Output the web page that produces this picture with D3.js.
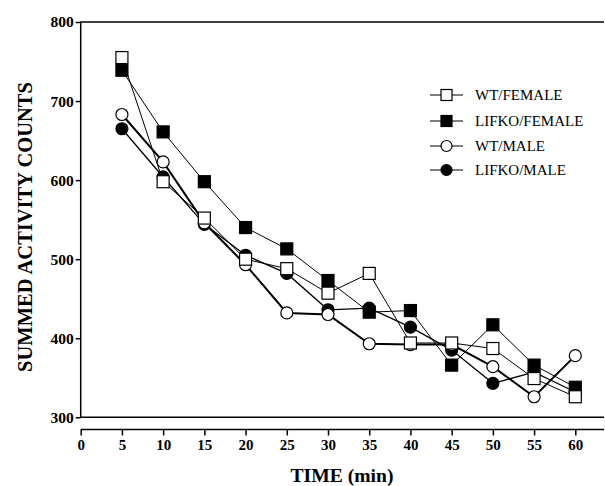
<!DOCTYPE html>
<html>
<head>
<meta charset="utf-8">
<script src="https://d3js.org/d3.v7.min.js"></script>
<style>
  body { margin: 0; background: #fff; }
  svg { display: block; }
  text { font-family: "Liberation Serif", "Times New Roman", serif; fill: #000; }
</style>
</head>
<body>
<div id="chart"></div>
<script>
// data
var times = [5, 10, 15, 20, 25, 30, 35, 40, 45, 50, 55, 60]
var wtFemale    = [755, 598, 552, 500, 488, 457, 482, 394, 394, 387, 349, 326]
var lifkoFemale = [739, 661, 598, 540, 513, 473, 433, 435, 366, 417, 366, 338]
var wtMale      = [683, 623, 546, 493, 432, 430, 393, 392, 392, 364, 326, 378]
var lifkoMale   = [665, 604, 544, 505, 482, 436, 438, 414, 385, 343, 357, 332]
var xTicks = [0, 5, 10, 15, 20, 25, 30, 35, 40, 45, 50, 55, 60]
var yTicks = [300, 400, 500, 600, 700, 800]

var series = [
  {name: "WT/FEMALE",    values: wtFemale,    shape: "square", fill: "#fff", lw: 1},
  {name: "LIFKO/FEMALE", values: lifkoFemale, shape: "square", fill: "#000", lw: 1},
  {name: "WT/MALE",      values: wtMale,      shape: "circle", fill: "#fff", lw: 2},
  {name: "LIFKO/MALE",   values: lifkoMale,   shape: "circle", fill: "#000", lw: 1.3}
]

var width = 605, height = 486
var svg = d3.select("#chart").append("svg")
    .attr("width", width).attr("height", height)

var x = d3.scaleLinear().domain([0, 60]).range([80.7, 575.3])
var y = d3.scaleLinear().domain([300, 800]).range([417.3, 22])

// scale a text's font so it spans the width seen in the figure
function fitText(sel, base, target) {
  sel.style("font-size", base + "px")
  var w = sel.node().getComputedTextLength()
  sel.style("font-size", (base * target / w).toFixed(2) + "px")
}

// frame (left, top, bottom)
svg.append("path")
    .attr("d", "M" + 604 + "," + y(800) + "H" + x(0) + "V" + y(300) + "H" + 604)
    .attr("fill", "none").attr("stroke", "#000").attr("stroke-width", 1.5)

// y axis
var yAxis = svg.append("g")
    .attr("transform", "translate(" + x(0) + ",0)")
    .call(d3.axisLeft(y).tickValues(yTicks).tickSize(5).tickPadding(2).tickFormat(d3.format("d")))
yAxis.select(".domain").remove()
yAxis.selectAll("line").attr("stroke-width", 1.5)
yAxis.selectAll("text").style("font-size", "15.5px").style("font-weight", "bold")
    .style("font-family", "'Liberation Serif', serif")

// x axis, offset below the plot
var xAxisY = 429.5
svg.append("line")
    .attr("x1", x(0)).attr("x2", 604).attr("y1", xAxisY).attr("y2", xAxisY)
    .attr("stroke", "#000").attr("stroke-width", 1.5)
var xAxis = svg.append("g")
    .attr("transform", "translate(0," + xAxisY + ")")
    .call(d3.axisBottom(x).tickValues(xTicks).tickSize(6).tickPadding(4).tickFormat(d3.format("d")))
xAxis.select(".domain").remove()
xAxis.selectAll("line").attr("stroke-width", 1.5)
xAxis.selectAll("text").style("font-size", "15px").style("font-weight", "bold")
    .style("font-family", "'Liberation Serif', serif")

// axis titles
var xTitle = svg.append("text")
    .attr("x", 342).attr("y", 482)
    .attr("text-anchor", "middle")
    .style("font-weight", "bold")
    .text("TIME (min)")
fitText(xTitle, 20, 103)

var yTitle = svg.append("text")
    .attr("transform", "translate(32," + 227 + ") rotate(-90)")
    .attr("text-anchor", "middle")
    .style("font-weight", "bold")
    .text("SUMMED ACTIVITY COUNTS")
fitText(yTitle, 18, 290)

var line = d3.line()
    .x(function(d, i) { return x(times[i]) })
    .y(function(d) { return y(d) })

function drawMarker(g, s, cx, cy, size) {
  if (s.shape === "square") {
    g.append("rect")
      .attr("x", cx - size / 2).attr("y", cy - size / 2)
      .attr("width", size).attr("height", size)
      .attr("fill", s.fill).attr("stroke", "#000").attr("stroke-width", 1.2)
  } else {
    g.append("circle")
      .attr("cx", cx).attr("cy", cy).attr("r", size / 2)
      .attr("fill", s.fill).attr("stroke", "#000").attr("stroke-width", 1.2)
  }
}

var plot = svg.append("g")
series.forEach(function(s) {
  plot.append("path")
    .attr("d", line(s.values))
    .attr("fill", "none").attr("stroke", "#000").attr("stroke-width", s.lw)
})
series.slice().reverse().forEach(function(s) {
  var g = plot.append("g")
  s.values.forEach(function(v, i) {
    drawMarker(g, s, x(times[i]), y(v), 12)
  })
})

// legend
var legend = svg.append("g")
var rows = [95, 121, 146, 170]
series.forEach(function(s, i) {
  var ly = rows[i]
  legend.append("line")
    .attr("x1", 430).attr("x2", 463).attr("y1", ly).attr("y2", ly)
    .attr("stroke", "#000").attr("stroke-width", 1.2)
  drawMarker(legend, s, 446.5, ly, 11)
  legend.append("text")
    .attr("x", 475).attr("y", ly + 5)
    .style("font-size", "15px")
    .text(s.name)
})
</script>
</body>
</html>
